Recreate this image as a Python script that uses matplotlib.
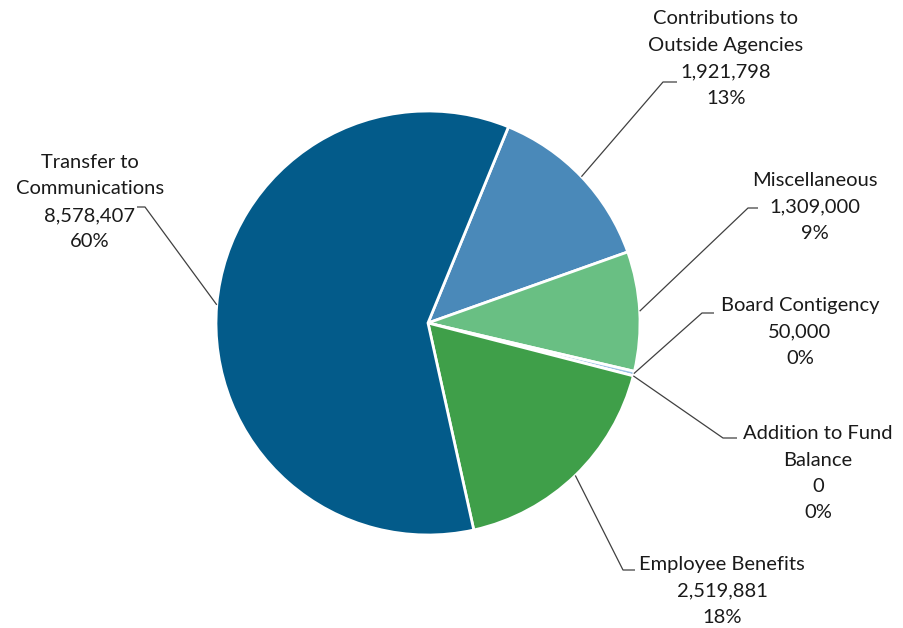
import numpy as np
import matplotlib.pyplot as plt

plt.rcParams['font.family'] = ['Lato', 'DejaVu Sans']

# data, in drawing order (clockwise from the top)
labels = ["Contributions to\nOutside Agencies", "Miscellaneous", "Board Contigency",
          "Addition to Fund\nBalance", "Employee Benefits", "Transfer to\nCommunications"]
values = [1921798, 1309000, 50000, 0, 2519881, 8578407]
colors = ["#4A89B9", "#69BF83", "#9DC3E6", "#C9DDEF", "#3F9F49", "#035B8A"]

# label placement (pixel coords, y from top): text centre x, first line centre y
label_pos = [(726, 17), (815, 179), (800, 304), (818, 432), (722, 563), (90, 161)]
elbow = [((663, 82), (677, 82)), ((748, 208), (758, 208)), ((702, 313), (714, 313)),
         ((723, 438), (737, 438)), ((623, 570), (635, 570)), ((145, 207), (137, 207))]
pitch = 26.5

W, H = 904, 628
fig = plt.figure(figsize=(W / 100, H / 100), dpi=100)
ax = fig.add_axes([0, 0, 1, 1])

cx, cy, R = 428, H - 323, 212
wedges, _ = ax.pie(values, colors=colors, startangle=67.7, counterclock=False,
                   center=(cx, cy), radius=R, frame=True,
                   wedgeprops=dict(edgecolor='white', linewidth=2))
ax.set_xlim(0, W)
ax.set_ylim(0, H)
ax.axis('off')

total = sum(values)
for w, lab, v, (tx, ty), (e1, e2) in zip(wedges, labels, values, label_pos, elbow):
    # leader from the middle of the wedge's arc to the label
    mid = np.deg2rad((w.theta1 + w.theta2) / 2)
    px = cx + R * np.cos(mid)
    py = cy + R * np.sin(mid)
    ax.plot([px, e1[0], e2[0]], [py, H - e1[1], H - e2[1]],
            color='#404040', lw=0.9, solid_capstyle='butt')
    pct = round(v / total * 100)
    lines = lab.split("\n") + [f"{v:,}", f"{pct}%"]
    for i, s in enumerate(lines):
        ax.text(tx, H - (ty + i * pitch), s, ha='center', va='center_baseline',
                fontsize=14.5, color='#1a1a1a')

fig.savefig('out.png', dpi=100)
